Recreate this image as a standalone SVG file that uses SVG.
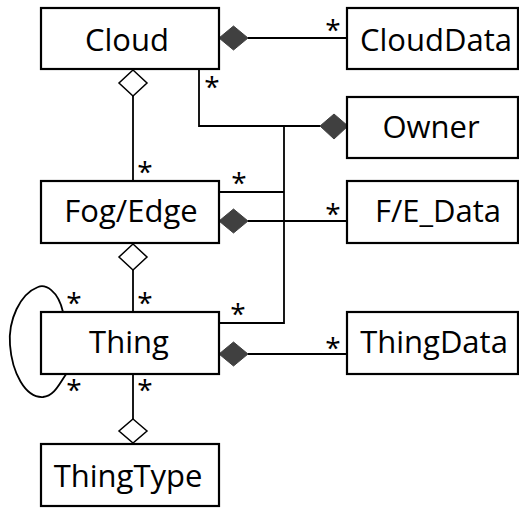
<svg xmlns="http://www.w3.org/2000/svg" width="519" height="510" viewBox="0 0 519 510">
<style>
.box{fill:#fff;stroke:#000;stroke-width:2.2}
.lbl{font-family:"Open Sans","Liberation Sans",sans-serif;font-size:31px;fill:#000;text-anchor:middle}
.m{font-family:"Open Sans","Liberation Sans",sans-serif;font-size:28px;fill:#000;text-anchor:middle}
.ln{fill:none;stroke:#000;stroke-width:1.8}
.comp{fill:#404040;stroke:#404040;stroke-width:1}
.agg{fill:#fff;stroke:#000;stroke-width:1.5}
</style>
<rect width="519" height="510" fill="#fff"/>
<g id="connectors">
  <path class="ln" d="M248 38 H347"/>
  <path class="ln" d="M133 96 V181"/>
  <path class="ln" d="M199 69 V126 H320"/>
  <path class="ln" d="M284 126 V323 H219"/>
  <path class="ln" d="M219 192 H284"/>
  <path class="ln" d="M248 221 H347"/>
  <path class="ln" d="M133 270 V312"/>
  <path class="ln" d="M248 354 H347"/>
  <path class="ln" d="M133 374 V419"/>
  <path class="ln" d="M63 312 C58 290 45 284 38 287 C20 294 8 320 10 345 C12 372 25 398 43 397 C55 396 60 382 67 373"/>
  <polygon class="comp" points="219,38 233.5,26 248,38 233.5,50"/>
  <polygon class="comp" points="320,126 334,114 348,126 334,139"/>
  <polygon class="comp" points="219,221 233.5,209 248,221 233.5,233"/>
  <polygon class="comp" points="219,354 233.5,342 248,354 233.5,366"/>
  <polygon class="agg" points="133,70 147,83 133,96 119,83"/>
  <polygon class="agg" points="133,244 147,257 133,270 119,257"/>
  <polygon class="agg" points="133,419 147,431 133,443 119,431"/>
  <text class="m" x="333" y="40">*</text>
  <text class="m" x="212" y="97">*</text>
  <text class="m" x="145" y="182">*</text>
  <text class="m" x="239" y="193">*</text>
  <text class="m" x="333" y="224">*</text>
  <text class="m" x="74" y="313">*</text>
  <text class="m" x="145" y="313">*</text>
  <text class="m" x="238" y="324">*</text>
  <text class="m" x="333" y="358">*</text>
  <text class="m" x="74" y="400">*</text>
  <text class="m" x="145" y="400">*</text>
</g>
<g id="cloud"><rect class="box" x="41" y="8" width="178" height="61"/><text class="lbl" x="127" y="51">Cloud</text></g>
<g id="clouddata"><rect class="box" x="347" y="8" width="171" height="61"/><text class="lbl" x="436" y="51">CloudData</text></g>
<g id="owner"><rect class="box" x="347" y="97" width="171" height="61"/><text class="lbl" x="431" y="138">Owner</text></g>
<g id="fogedge"><rect class="box" x="41" y="181" width="178" height="62"/><text class="lbl" x="131" y="222">Fog/Edge</text></g>
<g id="fedata"><rect class="box" x="347" y="181" width="171" height="62"/><text class="lbl" x="438" y="222">F/E_Data</text></g>
<g id="thing"><rect class="box" x="41" y="312" width="178" height="62"/><text class="lbl" x="129" y="353">Thing</text></g>
<g id="thingdata"><rect class="box" x="347" y="312" width="171" height="62"/><text class="lbl" x="434" y="353">ThingData</text></g>
<g id="thingtype"><rect class="box" x="41" y="444" width="178" height="62"/><text class="lbl" x="128" y="487">ThingType</text></g>
</svg>
